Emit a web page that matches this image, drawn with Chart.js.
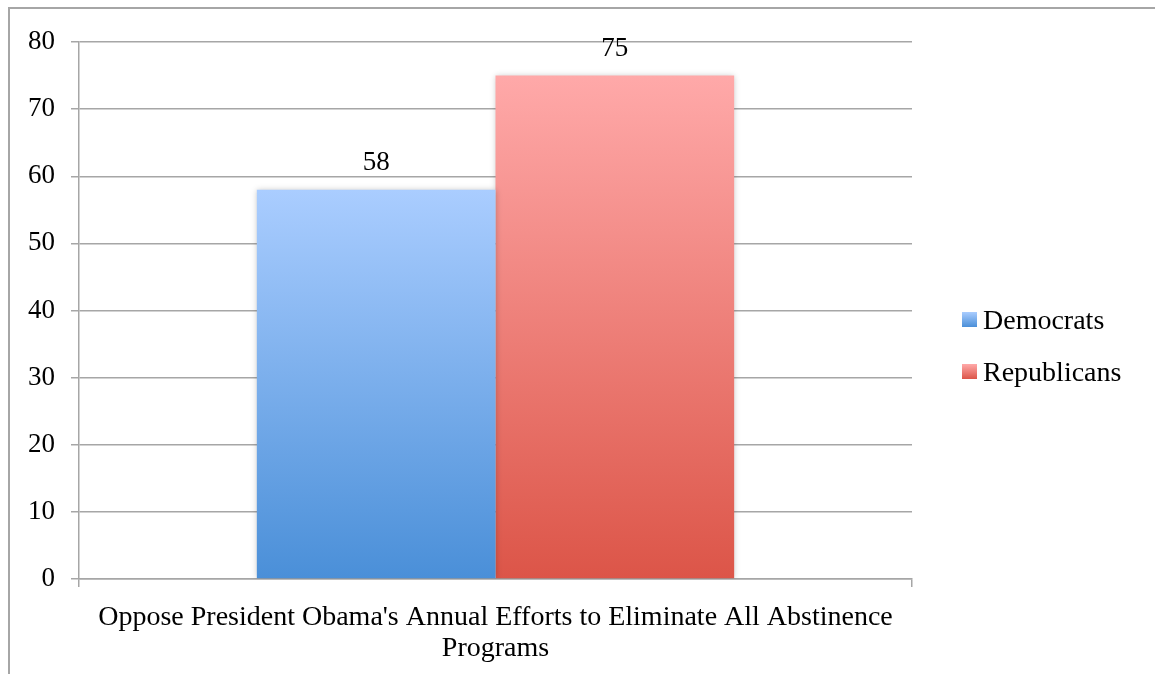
<!DOCTYPE html>
<html>
<head>
<meta charset="utf-8">
<script src="https://cdn.jsdelivr.net/npm/chart.js@4"></script>
<style>
  html, body { margin: 0; padding: 0; background: #fff; }
  #wrap { position: relative; width: 1155px; height: 674px; }
  #frame {
    position: absolute; left: 8px; top: 7px; right: 0; bottom: 0;
    border-top: 2px solid #a6a6a6; border-left: 2px solid #a6a6a6;
  }
  canvas { position: absolute; left: 0; top: 0; }
</style>
</head>
<body>
<div id="wrap">
  <div id="frame"></div>
  <canvas id="chart" width="1155" height="674"></canvas>
</div>
<script>
const categories = [["Oppose President Obama's Annual Efforts to Eliminate All Abstinence", "Programs"]];
const democrats = [58];
const republicans = [75];
const seriesNames = ["Democrats", "Republicans"];
const yTicks = [0, 10, 20, 30, 40, 50, 60, 70, 80];

const FONT = "'Liberation Serif', 'Times New Roman', serif";
const GRID = "#a6a6a6";

// top and bottom colours of each bar gradient
const shades = [
  ["#aacdff", "#4a8fd8"],
  ["#ffa9a9", "#dc5548"]
];

function barFill(context) {
  const chart = context.chart;
  const area = chart.chartArea;
  if (!area) return shades[context.datasetIndex][1];
  const v = context.raw;
  const y = chart.scales.y;
  const top = y.getPixelForValue(v);
  const bottom = y.getPixelForValue(0);
  const g = chart.ctx.createLinearGradient(0, top, 0, bottom);
  g.addColorStop(0, shades[context.datasetIndex][0]);
  g.addColorStop(1, shades[context.datasetIndex][1]);
  return g;
}

// faint shadow behind the bars
const barShadow = {
  id: "barShadow",
  beforeDatasetDraw(chart) {
    const c = chart.ctx;
    c.save();
    c.shadowColor = "rgba(0,0,0,0.22)";
    c.shadowBlur = 6;
  },
  afterDatasetDraw(chart) {
    chart.ctx.restore();
  }
};

// value above each bar
const valueLabels = {
  id: "valueLabels",
  afterDatasetsDraw(chart) {
    const c = chart.ctx;
    c.save();
    c.font = "27px " + FONT;
    c.fillStyle = "#000";
    c.textAlign = "center";
    c.textBaseline = "middle";
    chart.data.datasets.forEach((ds, i) => {
      chart.getDatasetMeta(i).data.forEach((bar, j) => {
        c.fillText(ds.data[j], bar.x, bar.y - 27);
      });
    });
    c.restore();
  }
};

// legend on the right
const sideLegend = {
  id: "sideLegend",
  afterDraw(chart) {
    const c = chart.ctx;
    c.save();
    c.font = "28px " + FONT;
    c.fillStyle = "#000";
    c.textBaseline = "middle";
    chart.data.datasets.forEach((ds, i) => {
      const cy = 322 + i * 52;
      const g = c.createLinearGradient(0, cy - 10, 0, cy + 5);
      g.addColorStop(0, shades[i][0]);
      g.addColorStop(1, shades[i][1]);
      c.fillStyle = g;
      c.fillRect(962, cy - 10, 15, 15);
      c.fillStyle = "#000";
      c.fillText(ds.label, 983, cy);
    });
    c.restore();
  }
};

new Chart(document.getElementById("chart").getContext("2d"), {
  type: "bar",
  data: {
    labels: categories,
    datasets: [
      { label: seriesNames[0], data: democrats, backgroundColor: barFill },
      { label: seriesNames[1], data: republicans, backgroundColor: barFill }
    ]
  },
  options: {
    responsive: false,
    animation: false,
    layout: { padding: { top: 42, right: 243, left: 0, bottom: 0 } },
    datasets: { bar: { barPercentage: 1, categoryPercentage: 0.573 } },
    plugins: {
      legend: { display: false },
      tooltip: { enabled: false }
    },
    scales: {
      x: {
        offset: true,
        grid: {
          offset: true,
          drawOnChartArea: false,
          drawTicks: true,
          tickLength: 8,
          color: GRID,
          lineWidth: 1.5
        },
        border: { color: GRID, width: 1.5 },
        ticks: {
          color: "#000",
          font: { family: FONT, size: 28, lineHeight: 1.12 },
          padding: 15,
          maxRotation: 0
        },
        afterFit(scale) { scale.height = 95; }
      },
      y: {
        min: 0,
        max: 80,
        afterBuildTicks(scale) { scale.ticks = yTicks.map(v => ({ value: v })); },
        grid: { color: GRID, lineWidth: 1.5, tickLength: 8 },
        border: { color: GRID, width: 1.5 },
        ticks: {
          color: "#000",
          font: { family: FONT, size: 27 },
          padding: 16
        },
        afterFit(scale) { scale.width = 79; }
      }
    }
  },
  plugins: [barShadow, valueLabels, sideLegend]
});
</script>
</body>
</html>
